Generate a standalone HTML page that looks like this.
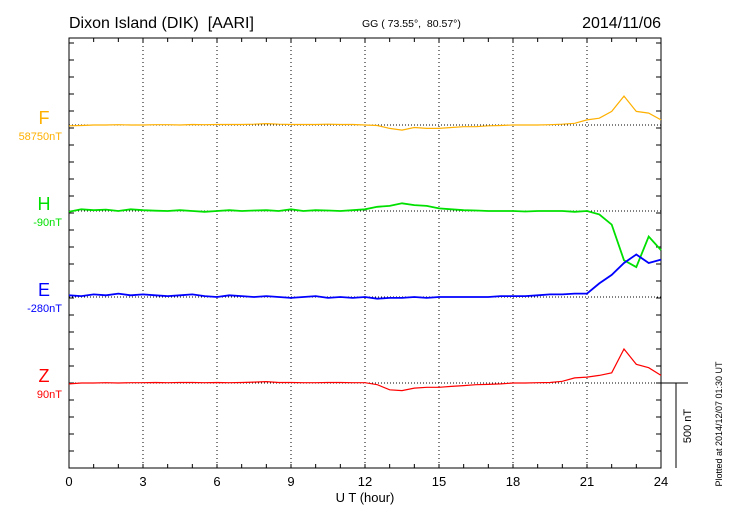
<!DOCTYPE html>
<html><head><meta charset="utf-8"><style>
body{margin:0;background:#fff;}
svg{display:block;font-family:"Liberation Sans",sans-serif;}
</style></head><body>
<svg id="c" width="730" height="520"></svg>
<script>
const hours=[0,0.5,1,1.5,2,2.5,3,3.5,4,4.5,5,5.5,6,6.5,7,7.5,8,8.5,9,9.5,10,10.5,11,11.5,12,12.5,13,13.5,14,14.5,15,15.5,16,16.5,17,17.5,18,18.5,19,19.5,20,20.5,21,21.5,22,22.5,23,23.5,24];
const seriesF=[-5,-3,0,0,2,0,0,2,2,0,3,2,3,3,3,5,8,5,3,3,3,5,3,3,0,-3,-20,-30,-15,-20,-20,-15,-10,-10,-5,-3,0,0,0,2,5,10,30,40,80,170,80,70,30];
const seriesH=[-5,10,5,8,0,10,5,2,0,5,0,-5,0,5,0,3,5,0,10,0,5,3,0,5,10,25,30,45,35,30,15,10,5,3,0,0,0,-3,0,0,0,-5,0,-20,-80,-290,-330,-150,-230];
const seriesE=[10,5,15,10,20,10,15,10,5,10,15,5,0,10,5,0,5,0,-5,0,5,-5,0,-5,0,-10,-5,-5,0,-5,0,0,0,0,0,5,5,5,10,15,15,20,20,80,130,200,250,200,220];
const seriesZ=[-5,0,0,2,0,2,2,3,2,3,3,2,3,2,3,5,8,3,3,2,2,3,3,2,2,-10,-40,-45,-30,-25,-25,-20,-15,-10,-8,-5,0,0,2,3,10,30,35,45,60,200,110,90,45];
const xTicks=[0,3,6,9,12,15,18,21,24];
const X0=69,X1=661,Y0=38,Y1=468,PXNT=85/500;
const xs=h=>X0+(X1-X0)*h/24;
const svg=document.getElementById('c');
const NS='http://www.w3.org/2000/svg';
function mk(t,a,txt){const e=document.createElementNS(NS,t);for(const k in a)e.setAttribute(k,a[k]);if(txt!==undefined)e.textContent=txt;svg.appendChild(e);return e;}
let e;
e=mk('rect',{x:X0,y:Y0,width:X1-X0,height:Y1-Y0,fill:'none',stroke:'#000','stroke-width':1});


for(let h=1;h<24;h++){
 const x=xs(h);
 e=mk('line',{x1:x,x2:x,y1:Y0,y2:Y0+4,stroke:'#000'});
 
 
 e=mk('line',{x1:x,x2:x,y1:Y1,y2:Y1-4,stroke:'#000'});
 
 
 if(h%3==0){
  e=mk('line',{x1:x,x2:x,y1:Y0,y2:Y1,stroke:'#000','stroke-dasharray':'1,3'});
  
  
 }
}
for(let y=Y1-17;y>Y0;y-=17){
 e=mk('line',{x1:X1,x2:X1-5,y1:y,y2:y,stroke:'#000'});
 
 
 e=mk('line',{x1:X0,x2:X0+5,y1:y,y2:y,stroke:'#000'});
 
 
}
xTicks.forEach(h=>{
 e=mk('text',{x:xs(h),y:486,'text-anchor':'middle','font-size':13},String(h));
 
 
});
const defs=[
 {d:seriesF,base:125,col:'#ffb000',lab:'F',val:'58750nT',name:'f',w:1.2},
 {d:seriesH,base:211,col:'#00e000',lab:'H',val:'-90nT',name:'h',w:1.8},
 {d:seriesE,base:297,col:'#0000ff',lab:'E',val:'-280nT',name:'e',w:1.8},
 {d:seriesZ,base:383,col:'#ff0000',lab:'Z',val:'90nT',name:'z',w:1.2}];
defs.forEach(s=>{
 e=mk('line',{x1:X0,x2:X1,y1:s.base,y2:s.base,stroke:'#000','stroke-dasharray':'1,2'});
 
 
 const pts=s.d.map((v,i)=>xs(hours[i]).toFixed(1)+','+(s.base-v*PXNT).toFixed(1)).join(' ');
 e=mk('polyline',{points:pts,fill:'none',stroke:s.col,'stroke-width':s.w});
 
 
 e=mk('text',{x:44,y:s.base-1,'text-anchor':'middle','font-size':18,fill:s.col},s.lab);
 
 
 e=mk('text',{x:62,y:s.base+15,'text-anchor':'end','font-size':11,fill:s.col},s.val);
 
 
});
e=mk('text',{x:69,y:28,'font-size':16,style:'white-space:pre'},'Dixon Island (DIK)  [AARI]');


e=mk('text',{x:362,y:27,'font-size':10.5,style:'white-space:pre'},'GG ( 73.55°,  80.57°)');


e=mk('text',{x:661,y:28,'font-size':16,'text-anchor':'end'},'2014/11/06');


e=mk('text',{x:365,y:502,'font-size':13,'text-anchor':'middle'},'U T (hour)');


e=mk('path',{d:'M661 383 H688 M676 383 V468',stroke:'#000',fill:'none'});


e=mk('text',{x:0,y:0,'font-size':11,'text-anchor':'middle',transform:'translate(691,426) rotate(-90)'},'500 nT');


e=mk('text',{x:0,y:0,'font-size':9,'text-anchor':'middle',transform:'translate(722,424) rotate(-90)'},'Plotted at 2014/12/07 01:30 UT');


</script>
</body></html>
